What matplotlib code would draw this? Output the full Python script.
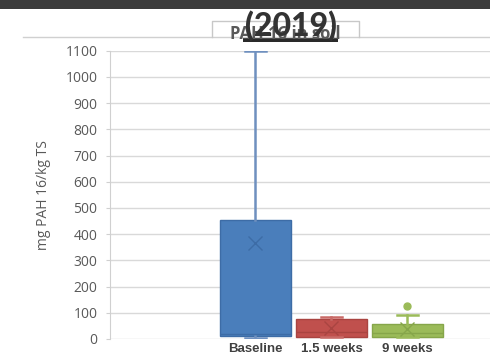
import matplotlib.pyplot as plt
import matplotlib.patches as mpatches
from matplotlib.lines import Line2D

# PAH 16 concentrations in soil per sampling time (mg/kg TS)
groups = ['Baseline', '1.5 weeks', '9 weeks']
q1 = [11, 9, 9]
median = [19, 25, 24]
q3 = [455, 75, 56]
whisker_low = [4, 9, 7]
whisker_high = [1100, 85, 92]
means = [367, 42, 37]
outliers = [[], [], [126]]

face_colors = ['#4a7ebb', '#c0504d', '#9bbb59']
edge_colors = ['#3d6ca6', '#a94441', '#86a64a']
whisker_colors = ['#6f90bf', '#c96a67', '#9bbb59']

W, H = 490, 352
fig = plt.figure(figsize=(W / 100, H / 100), dpi=100)


def px(x, y):
    return x / W, 1 - y / H


ax = fig.add_axes([110 / W, 13 / H, 1 - 110 / W, (339 - 50.7) / H])

for i, g in enumerate(groups):
    s = dict(label=g, med=median[i], q1=q1[i], q3=q3[i],
             whislo=whisker_low[i], whishi=whisker_high[i],
             mean=means[i], fliers=outliers[i])
    ax.bxp([s], positions=[i], widths=0.93, patch_artist=True,
           showmeans=True, manage_ticks=False,
           boxprops=dict(facecolor=face_colors[i], edgecolor=edge_colors[i], linewidth=1),
           medianprops=dict(color=edge_colors[i], linewidth=1),
           whiskerprops=dict(color=whisker_colors[i], linewidth=1.8),
           capprops=dict(color=whisker_colors[i], linewidth=1.8),
           capwidths=0.28,
           meanprops=dict(marker='x', markeredgecolor=edge_colors[i], markersize=10,
                          markeredgewidth=1),
           flierprops=dict(marker='o', markerfacecolor=face_colors[i],
                           markeredgecolor=face_colors[i], markersize=5))

ax.set_xlim(-1.914, 3.086)
ax.set_ylim(0, 1100)
ax.set_yticks(range(0, 1101, 100))
ax.set_xticks(range(len(groups)))
ax.set_xticklabels(groups, fontfamily='Liberation Sans', fontweight='bold',
                   fontsize=9.5, color='#404040')
ax.tick_params(axis='x', length=0, pad=3)
ax.tick_params(axis='y', length=3, color='#d0d0d0', labelsize=10,
               labelcolor='#595959', pad=6)
for lab in ax.get_yticklabels():
    lab.set_fontfamily('Open Sans')
ax.grid(axis='y', color='#d9d9d9', linewidth=1)
ax.set_axisbelow(True)
for side in ['top', 'right', 'bottom']:
    ax.spines[side].set_visible(False)
ax.spines['left'].set_color('#d0d0d0')
ax.set_ylabel('mg PAH 16/kg TS', fontfamily='Open Sans', fontsize=10,
              color='#595959')
ax.yaxis.set_label_coords((51 - 110) / (W - 110), 0.5)

# dark strip along the top edge
fig.add_artist(mpatches.Rectangle(px(0, 9), 1, 9 / H, transform=fig.transFigure,
                                  facecolor='#3b3b3b', edgecolor='none'))
# chart frame line and title box
fig.add_artist(Line2D([23 / W, 1], [1 - 36.7 / H] * 2, transform=fig.transFigure,
                      color='#d0d0d0', linewidth=1))
fig.add_artist(mpatches.Rectangle(px(212, 43), (359 - 212) / W, 22 / H,
                                  transform=fig.transFigure, facecolor='white',
                                  edgecolor='none'))
fig.add_artist(Line2D([212 / W, 212 / W, 359 / W, 359 / W],
                      [1 - 37 / H, 1 - 21 / H, 1 - 21 / H, 1 - 37 / H],
                      transform=fig.transFigure, color='#c8c8c8', linewidth=1))
fig.text(*px(285.5, 39), 'PAH 16 in soil', ha='center', va='baseline',
         fontfamily='Open Sans', fontweight='bold', fontsize=12, color='#595959')
fig.text(*px(290.5, 36), '(2019)', ha='center', va='baseline',
         fontfamily='Lato', fontweight='black', fontsize=23, color='#333333')
fig.add_artist(mpatches.Rectangle(px(243, 41.5), (338 - 243) / W, 3.5 / H,
                                  transform=fig.transFigure, facecolor='#2a2a2a',
                                  edgecolor='none'))

fig.savefig('out.png', dpi=100)
